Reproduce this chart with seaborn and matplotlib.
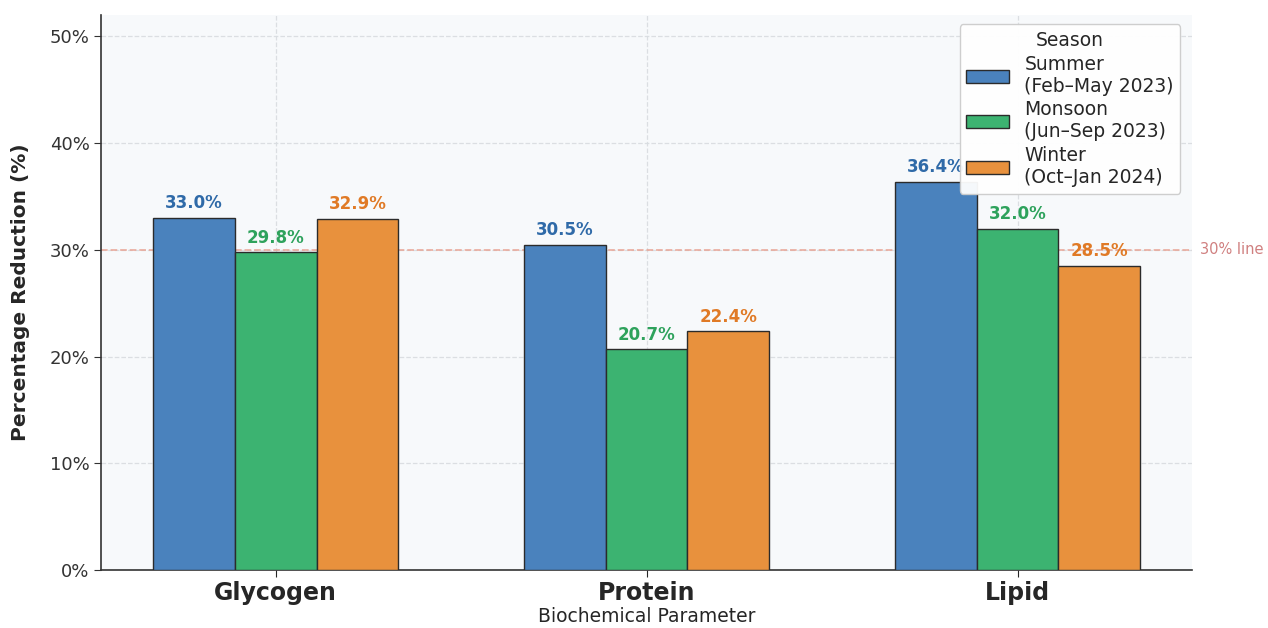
import matplotlib
matplotlib.use("Agg")
import matplotlib.pyplot as plt
import seaborn as sns
import pandas as pd
from matplotlib.ticker import FuncFormatter

parameters = ["Glycogen", "Protein", "Lipid"]
seasons = ["Summer\n(Feb\u2013May 2023)", "Monsoon\n(Jun\u2013Sep 2023)", "Winter\n(Oct\u2013Jan 2024)"]
summer = [33.0, 30.5, 36.4]
monsoon = [29.8, 20.7, 32.0]
winter = [32.9, 22.4, 28.5]

bar_colors = ["#4a82bd", "#3cb371", "#e8913d"]
label_colors = ["#2f6aa8", "#2ea25c", "#e07a26"]

rows = []
for s, vals in zip(seasons, [summer, monsoon, winter]):
    for p, v in zip(parameters, vals):
        rows.append({"Parameter": p, "Season": s, "Value": v})
df = pd.DataFrame(rows)

sns.set_style("white")
plt.rcParams['font.family'] = ['DejaVu Sans']

fig, ax = plt.subplots(figsize=(12.68, 6.28), dpi=100)
fig.subplots_adjust(left=0.080, right=0.940, bottom=0.092, top=0.976)
ax.set_facecolor("#f7f9fb")

sns.barplot(data=df, x="Parameter", y="Value", hue="Season", order=parameters,
            hue_order=seasons, palette=bar_colors, saturation=1, width=0.66,
            edgecolor="#2b2b2b", linewidth=1.0, ax=ax, zorder=3)

for container, col in zip(ax.containers, label_colors):
    labels = [f"{v:.1f}%" for v in container.datavalues]
    ax.bar_label(container, labels=labels, padding=4, color=col,
                 fontsize=12, fontweight="bold", zorder=4)

ax.axhline(30, color="#e8a090", linestyle="--", linewidth=1.3, alpha=0.8, zorder=2)
ax.text(1.007, 30, "30% line", transform=ax.get_yaxis_transform(), color="#d08080",
        fontsize=10.5, va="center", ha="left", clip_on=False)

ax.set_ylim(0, 52)
ax.set_xlim(-0.47, 2.47)
ax.set_yticks([0, 10, 20, 30, 40, 50])
ax.yaxis.set_major_formatter(FuncFormatter(lambda v, p: f"{v:.0f}%"))
ax.grid(True, linestyle="--", color="#d8dce0", linewidth=0.9, alpha=0.9, zorder=0)
ax.set_axisbelow(True)

for s in ["top", "right"]:
    ax.spines[s].set_visible(False)
for s in ["left", "bottom"]:
    ax.spines[s].set_color("#333333")
    ax.spines[s].set_linewidth(1.2)

ax.tick_params(axis="y", labelsize=13, colors="#333333", length=5, left=True)
ax.tick_params(axis="x", labelsize=17, length=5, bottom=True, pad=3)
for t in ax.get_xticklabels():
    t.set_fontweight("bold")

ax.set_ylabel("Percentage Reduction (%)", fontsize=14.5, fontweight="bold", labelpad=14)
ax.set_xlabel("Biochemical Parameter", fontsize=13.5, labelpad=1)

leg = ax.legend(title="Season", loc="upper right", fontsize=13.5, title_fontsize=13.5,
                frameon=True, framealpha=0.95, edgecolor="#cccccc", fancybox=True,
                handlelength=2.3, labelspacing=0.25, borderpad=0.35,
                bbox_to_anchor=(0.998, 1.0))
leg.set_zorder(10)

fig.savefig("out.png", dpi=100)
